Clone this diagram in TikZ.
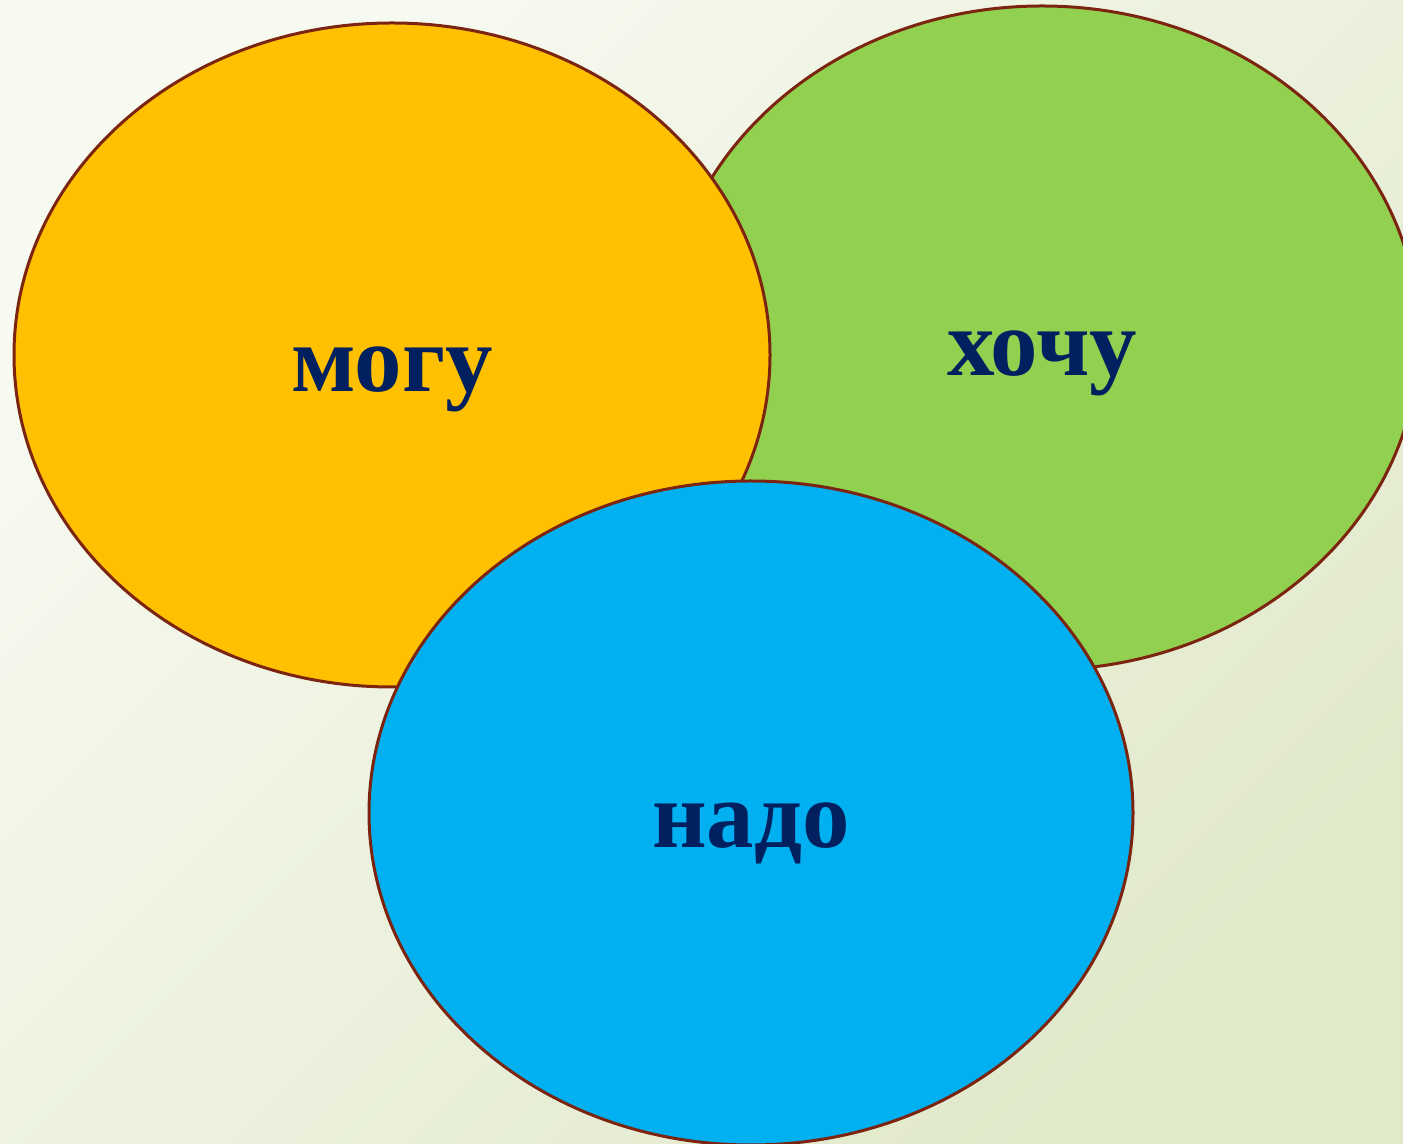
\documentclass[tikz,border=0pt]{standalone}
\usepackage{fontspec}
\setmainfont{Liberation Serif}
\usetikzlibrary{shapes.geometric, positioning}

\definecolor{bgLight}{HTML}{F7FAF1}
\definecolor{bgDark}{HTML}{E1E9CB}
\definecolor{rimBrown}{HTML}{7B2410}
\definecolor{mogYellow}{HTML}{FFC000}
\definecolor{hochGreen}{HTML}{92D050}
\definecolor{nadoBlue}{HTML}{00B0F0}
\definecolor{wordNavy}{HTML}{002060}

\begin{document}
\begin{tikzpicture}[
    every node/.style={inner sep=0pt},
    bubble/.style={ellipse, draw=rimBrown, line width=0.3mm, minimum width=7.56cm, minimum height=6.64cm},
    word/.style={anchor=base, text=wordNavy, font=\fontsize{27}{27}\selectfont\bfseries}]

    % Background
    \shade[top color=bgLight, bottom color=bgDark, shading angle=45] (0,0) rectangle (14.03,11.43);
    \useasboundingbox (0,0) rectangle (14.03,11.43);

    % Bubbles
    \node (hoch) [bubble, fill=hochGreen, minimum width=7.54cm] at (10.42,8.05) {};
    \node (mog) [bubble, fill=mogYellow] at (3.92,7.88) {};
    \node (nado) [bubble, fill=nadoBlue, minimum width=7.64cm] at (7.51,3.30) {};

    % Words
    \node (w_mog) [word] at ([yshift=-0.37cm]mog.center) {могу};
    \node (w_hoch) [word] at ([yshift=-0.38cm]hoch.center) {хочу};
    \node (w_nado) [word] at ([yshift=-0.35cm]nado.center) {надо};

\end{tikzpicture}
\end{document}
